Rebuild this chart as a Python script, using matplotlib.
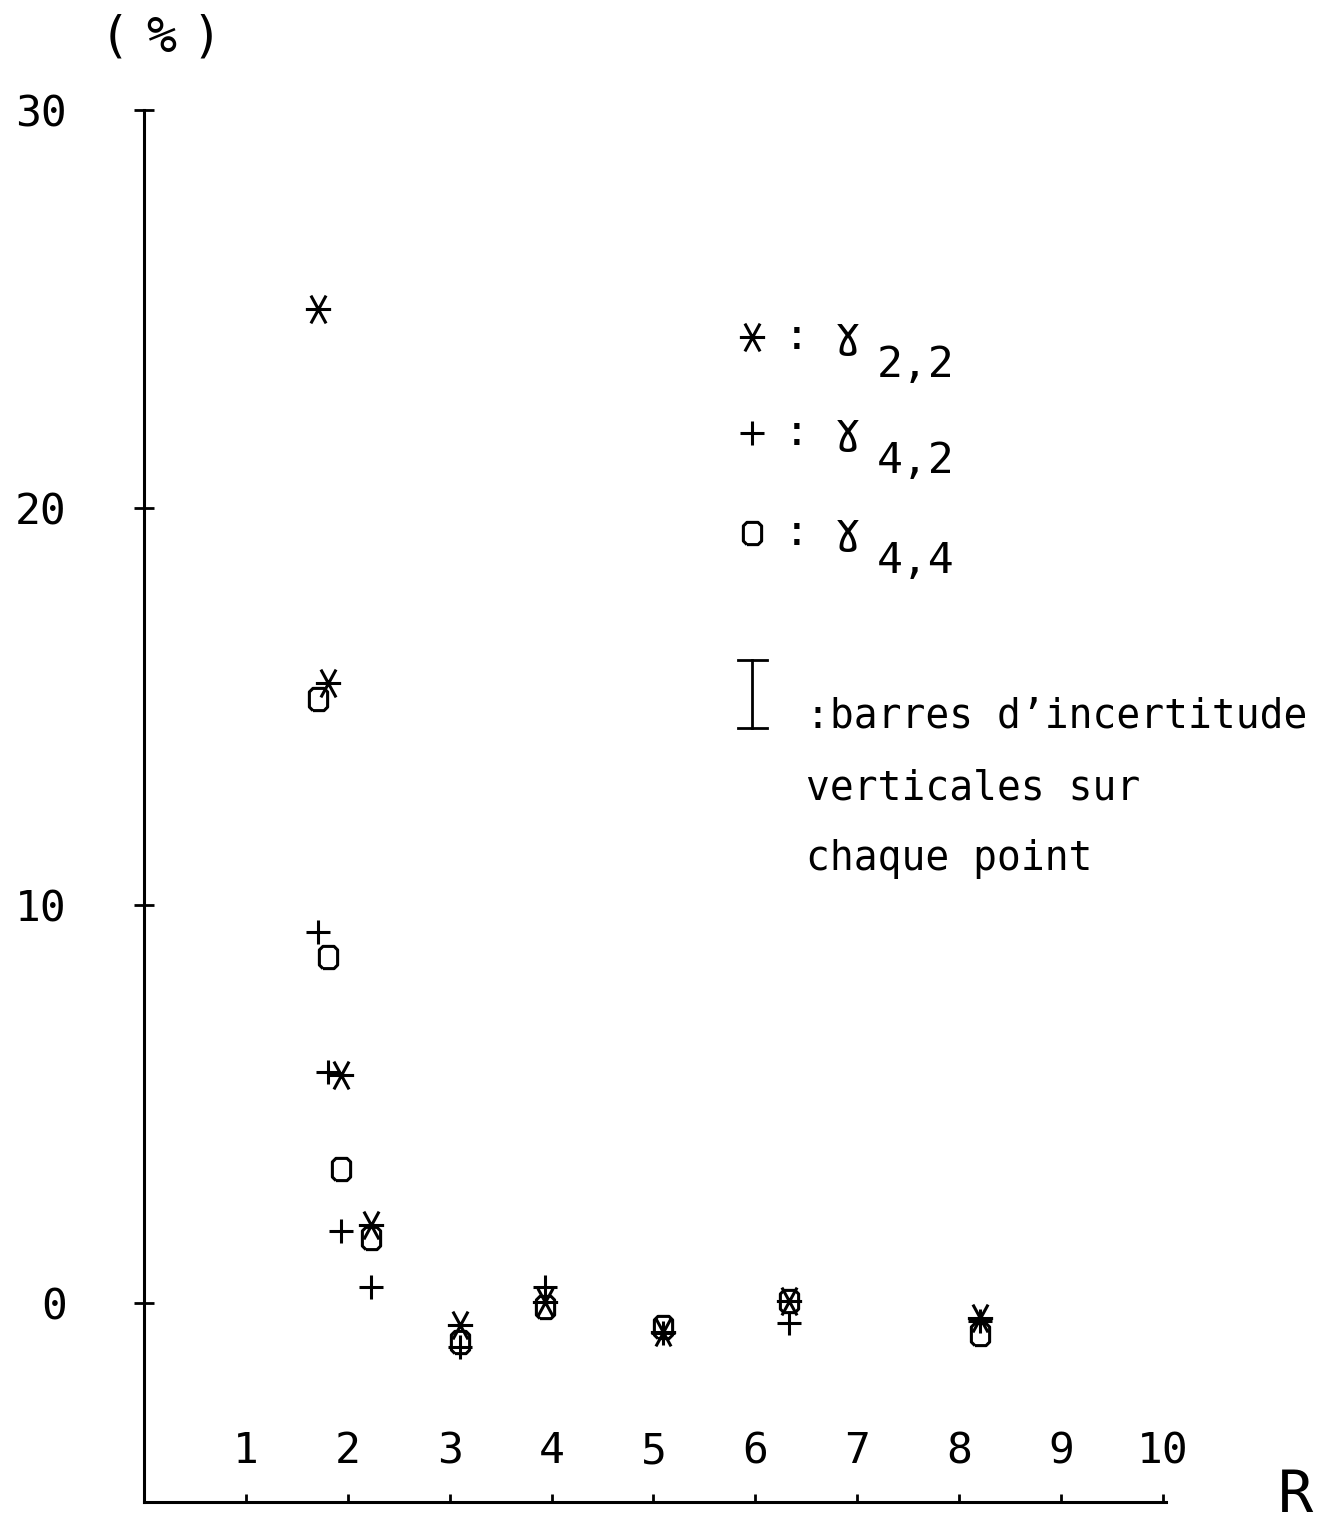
import numpy as np
import matplotlib
matplotlib.use("Agg")
import matplotlib.pyplot as plt
from matplotlib.path import Path

plt.rcParams["font.family"] = ["DejaVu Sans Mono", "DejaVu Sans"]

# ---- data -------------------------------------------------------------------
R = [1.71, 1.81, 1.93, 2.23, 3.10, 3.94, 5.09, 6.33, 8.20]
g22 = [25.0, 15.6, 5.73, 1.96, -0.55, 0.03, -0.73, 0.05, -0.38]   # *
g42 = [9.33, 5.8, 1.81, 0.40, -1.11, 0.40, -0.75, -0.50, -0.45]   # +
g44 = [15.2, 8.7, 3.37, 1.63, -0.98, -0.10, -0.60, 0.05, -0.78]   # o
xticks = [1, 2, 3, 4, 5, 6, 7, 8, 9, 10]
yticks = [0, 10, 20, 30]

W, H = 1330, 1525
fx = lambda px: px / W
fy = lambda py: 1 - py / H

# plotter-style markers
star = Path([(-0.5, 0), (0.5, 0), (-0.3, -0.55), (0.3, 0.55), (0.3, -0.55), (-0.3, 0.55)],
            [Path.MOVETO, Path.LINETO] * 3)
a, b, c = 0.41, 0.5, 0.16
octo = Path([(-a + c, -b), (a - c, -b), (a, -b + c), (a, b - c), (a - c, b), (-a + c, b),
             (-a, b - c), (-a, -b + c), (-a + c, -b)])
MK = dict(ls="none", color="k", mfc="none", mew=2.2, clip_on=False)

fig = plt.figure(figsize=(W / 100, H / 100), dpi=100)
x0, x1, ybot, ytop = 144, 1166, 1502, 110
ax = fig.add_axes([fx(x0), fy(ybot), fx(x1) - fx(x0), fy(ytop) - fy(ybot)])
ax.set_xlim(0, 10.03); ax.set_ylim(-5, 30)
for s in ("top", "right"):
    ax.spines[s].set_visible(False)
for s in ("left", "bottom"):
    ax.spines[s].set_linewidth(2.2)

ax.plot(R, g22, marker=star, ms=20, **MK)
ax.plot(R, g42, marker="+", ms=17, **MK)
ax.plot(R, g44, marker=octo, ms=16, **MK)

ax.set_yticks(yticks, [str(v) for v in yticks], fontsize=31)
ax.tick_params(axis="y", direction="inout", length=15, width=2, pad=48)
ax.set_xticks(xticks, [])
ax.tick_params(axis="x", direction="in", length=6, width=2)
for v in xticks:
    ax.text(v, 0.028, str(v), transform=ax.get_xaxis_transform(),
            ha="center", va="baseline", fontsize=31)

# unit label "( % )"
for px, ch in ((115, "("), (161, "%"), (206, ")")):
    fig.text(fx(px), fy(38), ch, ha="center", va="center", fontsize=36)
fig.text(fx(1295), fy(1512), "R", ha="center", va="baseline", fontsize=42)

# legend block
rows = [(337, star, 20, "2,2"), (433, "+", 17, "4,2"), (533, octo, 16, "4,4")]
for py, m, ms, sub in rows:
    fig.lines.append(plt.Line2D([fx(752)], [fy(py)], marker=m, ms=ms, ls="none",
                                color="k", mfc="none", mew=2.2, transform=fig.transFigure))
    fig.text(fx(797), fy(py), ":", ha="center", va="center", fontsize=31)
    fig.text(fx(848), fy(py - 2), "ɣ", ha="center", va="center", fontsize=31)
    fig.text(fx(877), fy(py + 40), sub, ha="left", va="baseline", fontsize=31)

# error bar key
for xs, ys in (([752, 752], [660, 728]), ([738, 767], [660, 660]), ([738, 767], [728, 728])):
    fig.lines.append(plt.Line2D([fx(v) for v in xs], [fy(v) for v in ys], color="k",
                                lw=2, transform=fig.transFigure))
for py, t in ((728, ":barres d’incertitude"), (800, "verticales sur"), (870, "chaque point")):
    fig.text(fx(806), fy(py), t, ha="left", va="baseline", fontsize=28.5)

fig.savefig("out.png", dpi=100)
